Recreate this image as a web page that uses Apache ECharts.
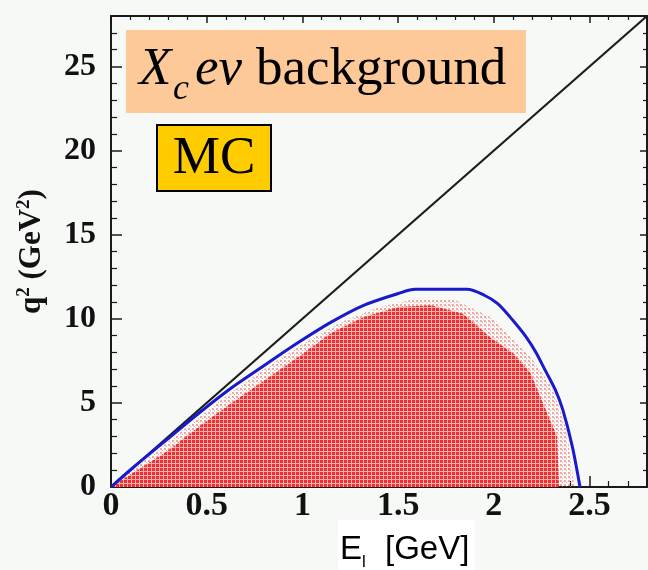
<!DOCTYPE html>
<html><head><meta charset="utf-8">
<script src="https://cdn.jsdelivr.net/npm/echarts@6/dist/echarts.min.js"></script>
<style>html,body{margin:0;padding:0;background:#f6f9f6}#c{width:648px;height:570px}</style>
</head><body><div id="c"></div>
<script>
// ---- data ----
const xTickLabels = [0, 0.5, 1, 1.5, 2, 2.5];
const yTickLabels = [0, 5, 10, 15, 20, 25];
// diagonal limit line
const diagE  = [0, 2.8];
const diagQ2 = [0, 28];
// kinematic boundary (blue)
const boundE  = [0, 0.11, 0.29, 0.46, 0.63, 0.81, 0.98, 1.15, 1.32, 1.50, 1.59, 1.86, 1.95, 2.02, 2.10, 2.17, 2.22, 2.27, 2.32, 2.36, 2.41, 2.45];
const boundQ2 = [0, 1.1, 2.8, 4.4, 5.9, 7.3, 8.6, 9.8, 10.8, 11.5, 11.75, 11.75, 11.4, 10.9, 9.9, 8.9, 8.0, 6.9, 5.8, 4.6, 2.4, 0];
// dense MC population envelope (red)
const denseE  = [0, 0.11, 0.29, 0.46, 0.63, 0.81, 0.98, 1.15, 1.32, 1.50, 1.67, 1.84, 1.98, 2.10, 2.19, 2.27, 2.33, 2.34];
const denseQ2 = [0, 0.8, 2.1, 3.6, 5.0, 6.4, 7.75, 9.15, 10.1, 10.7, 10.8, 10.3, 8.9, 7.95, 6.8, 4.6, 3.0, 0.2];
// sparse MC population envelope (pink fringe)
const fringeE  = [0, 0.2, 0.4, 0.6, 0.8, 1.0, 1.2, 1.4, 1.6, 1.8, 2.0, 2.2, 2.3, 2.38, 2.42];
const fringeQ2 = [0, 1.8, 3.6, 5.4, 7.0, 8.5, 9.8, 10.7, 11.2, 11.1, 10.0, 7.6, 6.0, 3.5, 0];

const zip = (a, b) => a.map((v, i) => [v, b[i]]);

function pattern(base, line, w) {
  const c = document.createElement('canvas');
  c.width = w; c.height = w;
  const g = c.getContext('2d');
  g.fillStyle = base; g.fillRect(0, 0, w, w);
  if (line) { g.fillStyle = line; g.fillRect(w - 1, 0, 1, w); g.fillRect(0, w - 1, w, 1); }
  return c;
}
function dots(col, w) {
  const c = document.createElement('canvas');
  c.width = w; c.height = w;
  const g = c.getContext('2d');
  g.fillStyle = col; g.fillRect(0, 0, 2, 2); g.fillRect(2, 2, 1, 1);
  return c;
}

const serif = "'Liberation Serif','Times New Roman',serif";
const sans = "'Liberation Sans',Arial,sans-serif";
const axisCol = '#1a1a1a';

const chart = echarts.init(document.getElementById('c'));
const common = {
  type: 'value', min: 0,
  axisLine: { show: true, onZero: false, lineStyle: { color: axisCol, width: 2 } },
  axisTick: { show: true, inside: true, length: 11, lineStyle: { color: axisCol, width: 1.5 } },
  minorTick: { show: true, splitNumber: 5, length: 6, lineStyle: { color: axisCol, width: 1.2 } },
  splitLine: { show: false }
};
chart.setOption({
  animation: false,
  backgroundColor: '#f6f9f6',
  grid: { left: 111, top: 16, width: 536, height: 471 },
  xAxis: [
    Object.assign({}, common, {
      max: 2.8, interval: 0.5, position: 'bottom',
      axisLabel: { show: true, margin: 2, color: '#111', fontFamily: serif, fontWeight: 'bold', fontSize: 34,
        showMaxLabel: false, formatter: v => xTickLabels.includes(+v.toFixed(2)) ? String(+v.toFixed(2)) : '' }
    }),
    Object.assign({}, common, {
      max: 2.8, interval: 0.5, position: 'top',
      axisTick: { show: true, inside: true, length: 7, lineStyle: { color: axisCol, width: 1.5 } },
      minorTick: { show: true, splitNumber: 5, length: 4, lineStyle: { color: axisCol, width: 1.2 } },
      axisLabel: { show: false }
    })
  ],
  yAxis: [
    Object.assign({}, common, {
      max: 28, interval: 5, position: 'left',
      name: '{a|q}{s|2}{a| (GeV}{s|2}{a|)}', nameLocation: 'middle', nameGap: 62, nameRotate: 90,
      nameTextStyle: { fontFamily: serif, fontWeight: 'bold', fontSize: 31, color: '#111',
        rich: { a: { fontFamily: serif, fontWeight: 'bold', fontSize: 31, color: '#111', lineHeight: 34 },
                s: { fontFamily: serif, fontWeight: 'bold', fontSize: 19, color: '#111', verticalAlign: 'top', lineHeight: 20 } } },
      axisLabel: { show: true, margin: 15, color: '#111', fontFamily: serif, fontWeight: 'bold', fontSize: 32,
        showMaxLabel: false, formatter: v => yTickLabels.includes(v) ? String(v) : '' }
    }),
    Object.assign({}, common, {
      max: 28, interval: 5, position: 'right',
      axisTick: { show: true, inside: true, length: 7, lineStyle: { color: axisCol, width: 1.5 } },
      minorTick: { show: true, splitNumber: 5, length: 4, lineStyle: { color: axisCol, width: 1.2 } },
      axisLabel: { show: false }
    })
  ],
  series: [
    { type: 'line', data: zip(fringeE, fringeQ2), symbol: 'none', silent: true, z: 1,
      lineStyle: { width: 0 }, areaStyle: { color: { image: dots('rgba(240,110,110,0.6)', 4), repeat: 'repeat' }, opacity: 1 } },
    { type: 'line', data: zip(denseE, denseQ2), symbol: 'none', silent: true, z: 2,
      lineStyle: { width: 0 }, areaStyle: { color: { image: pattern('#f03030', '#fbb0b0', 4), repeat: 'repeat' }, opacity: 1 } },
    { type: 'line', data: zip(diagE, diagQ2), symbol: 'none', silent: true, z: 3,
      lineStyle: { color: '#1c1c1c', width: 2.2 } },
    { type: 'line', data: zip(boundE, boundQ2), symbol: 'none', smooth: 0.3, silent: true, z: 4,
      lineStyle: { color: '#1a1acc', width: 3 } }
  ],
  graphic: [
    { type: 'rect', shape: { x: 126, y: 30, width: 400, height: 83 }, style: { fill: '#fdc999' }, z: 10 },
    { type: 'text', x: 139, y: 70, z: 11, style: { text: 'X', font: `italic 53px ${serif}`, fill: '#000', verticalAlign: 'middle', align: 'left' } },
    { type: 'text', x: 173, y: 90, z: 11, style: { text: 'c', font: `italic 36px ${serif}`, fill: '#000', verticalAlign: 'middle', align: 'left' } },
    { type: 'text', x: 195, y: 70, z: 11, style: { text: 'ev', font: `italic 53px ${serif}`, fill: '#000', verticalAlign: 'middle', align: 'left' } },
    { type: 'text', x: 256, y: 70, z: 11, style: { text: 'background', font: `53px ${serif}`, fill: '#000', verticalAlign: 'middle', align: 'left' } },
    { type: 'rect', shape: { x: 157, y: 125, width: 114, height: 66 }, style: { fill: '#ffcc00', stroke: '#000', lineWidth: 2 }, z: 10 },
    { type: 'text', x: 214, y: 159, z: 11, style: { text: 'MC', font: `53px ${serif}`, fill: '#000', verticalAlign: 'middle', align: 'center' } },
    { type: 'rect', shape: { x: 338, y: 520, width: 137, height: 50 }, style: { fill: '#ffffff' }, z: 10 },
    { type: 'text', x: 340, y: 550, z: 11, style: { text: 'E', font: `33px ${sans}`, fill: '#000', verticalAlign: 'middle', align: 'left' } },
    { type: 'text', x: 362, y: 562, z: 11, style: { text: 'l', font: `17px ${sans}`, fill: '#000', verticalAlign: 'middle', align: 'left' } },
    { type: 'text', x: 385, y: 550, z: 11, style: { text: '[GeV]', font: `33px ${sans}`, fill: '#000', verticalAlign: 'middle', align: 'left' } }
  ]
});
</script></body></html>
